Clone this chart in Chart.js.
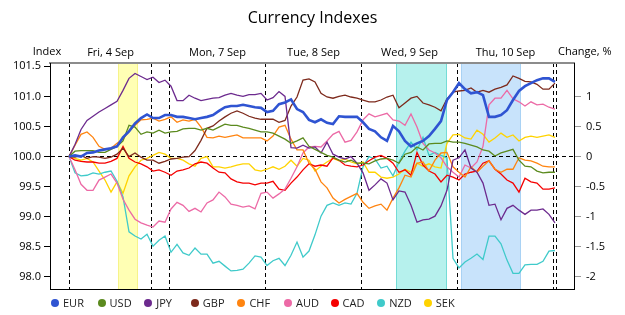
<!DOCTYPE html>
<html>
<head>
<meta charset="utf-8">
<script src="https://cdn.jsdelivr.net/npm/chart.js@4.4.1/dist/chart.umd.min.js"></script>
<style>
  html, body { margin: 0; padding: 0; background: #fff; }
  #wrap { position: relative; width: 625px; height: 315px; }
  #legend {
    position: absolute; left: 51px; top: 295px; display: flex;
    font: 11px "Open Sans", sans-serif; color: #222; line-height: 15px;
  }
  .item { width: 46.6px; display: flex; align-items: center; white-space: nowrap; }
  .dot { width: 8px; height: 8px; border-radius: 50%; margin-right: 4px; flex: none; }
</style>
</head>
<body>
<div id="wrap">
  <canvas id="chart" width="625" height="315"></canvas>
  <div id="legend"></div>
</div>
<script>
const FONT = '"Open Sans", sans-serif';

const CURRENCIES = ["EUR", "USD", "JPY", "GBP", "CHF", "AUD", "CAD", "NZD", "SEK"];

// index values, one point per step, Fri 4 Sep -> Thu 10 Sep
const EUR = [
  100.00, 100.02, 100.00, 100.06, 100.07, 100.10, 100.12, 100.14, 100.17, 100.32,
  100.42, 100.55, 100.64, 100.70, 100.64, 100.64, 100.69, 100.69, 100.66, 100.66,
  100.64, 100.62, 100.64, 100.66, 100.69, 100.76, 100.82, 100.84, 100.84, 100.86,
  100.84, 100.82, 100.81, 100.74, 100.76, 100.87, 100.90, 100.95, 100.79, 100.74,
  100.61, 100.57, 100.62, 100.56, 100.54, 100.67, 100.66, 100.66, 100.66, 100.57,
  100.46, 100.42, 100.32, 100.26, 100.51, 100.42, 100.26, 100.17, 100.22, 100.26,
  100.34, 100.46, 100.59, 100.94, 101.07, 101.22, 101.12, 101.05, 101.07, 101.02,
  100.66, 100.66, 100.69, 100.77, 100.94, 101.09, 101.17, 101.22, 101.27, 101.30,
  101.30, 101.24,
];
const USD = [
  100.00, 100.09, 100.10, 100.10, 100.10, 100.07, 100.07, 100.12, 100.17, 100.26,
  100.52, 100.49, 100.37, 100.41, 100.39, 100.44, 100.39, 100.41, 100.42, 100.46,
  100.47, 100.47, 100.44, 100.47, 100.44, 100.49, 100.54, 100.52, 100.52, 100.49,
  100.47, 100.44, 100.41, 100.41, 100.39, 100.34, 100.29, 100.22, 100.26, 100.31,
  100.17, 100.12, 100.07, 100.02, 99.99, 99.94, 99.91, 99.94, 99.89, 99.89,
  99.88, 99.93, 99.96, 99.97, 99.94, 99.89, 100.04, 100.07, 100.16, 100.11,
  100.21, 100.22, 100.22, 100.26, 100.24, 100.24, 100.22, 100.19, 100.16, 100.11,
  100.09, 100.01, 100.06, 100.09, 100.12, 99.94, 99.84, 99.83, 99.76, 99.73,
  99.74, 99.74,
];
const JPY = [
  100.00, 100.20, 100.45, 100.60, 100.67, 100.74, 100.80, 100.86, 100.92, 101.10,
  101.30, 101.38, 101.33, 101.28, 101.32, 101.23, 101.27, 101.17, 100.93, 100.93,
  101.02, 100.97, 100.93, 100.95, 100.97, 100.98, 101.02, 101.05, 101.02, 101.00,
  101.03, 101.03, 101.05, 100.94, 100.98, 101.08, 101.00, 100.15, 100.14, 100.19,
  100.14, 100.16, 100.06, 100.24, 100.04, 99.99, 99.96, 100.00, 99.89, 99.73,
  99.44, 99.53, 99.63, 99.56, 99.28, 99.43, 99.41, 99.19, 98.91, 98.95,
  98.96, 99.01, 99.18, 99.44, 99.94, 99.98, 100.11, 99.81, 99.74, 99.56,
  99.19, 99.21, 98.95, 99.14, 99.19, 99.11, 99.04, 99.11, 99.11, 99.13,
  99.04, 98.90,
];
const GBP = [
  100.00, 99.99, 100.02, 99.97, 100.00, 99.99, 99.97, 99.99, 100.04, 100.14,
  100.00, 100.06, 99.99, 99.94, 99.94, 99.89, 99.92, 99.96, 99.97, 99.99,
  100.00, 100.10, 100.27, 100.47, 100.51, 100.59, 100.66, 100.72, 100.76, 100.72,
  100.67, 100.64, 100.62, 100.62, 100.62, 100.57, 100.60, 100.84, 100.99, 101.27,
  101.29, 101.24, 101.05, 100.99, 100.97, 101.00, 101.02, 100.99, 100.97, 100.94,
  100.91, 100.91, 100.94, 100.99, 101.02, 100.81, 100.89, 100.97, 101.00, 100.89,
  100.86, 100.82, 100.76, 100.96, 101.07, 101.09, 101.10, 101.14, 101.07, 101.10,
  101.07, 101.12, 101.15, 101.19, 101.34, 101.30, 101.25, 101.24, 101.20, 101.12,
  101.12, 101.22,
];
const CHF = [
  100.00, 100.19, 100.37, 100.41, 100.32, 100.17, 100.12, 100.14, 100.22, 100.29,
  100.42, 100.52, 100.61, 100.62, 100.64, 100.59, 100.62, 100.66, 100.57, 100.61,
  100.59, 100.62, 100.49, 100.32, 100.31, 100.34, 100.32, 100.34, 100.36, 100.31,
  100.31, 100.31, 100.31, 100.26, 100.34, 100.49, 100.52, 100.29, 100.11, 100.11,
  99.89, 99.79, 99.58, 99.48, 99.31, 99.23, 99.29, 99.34, 99.39, 99.24,
  99.14, 99.18, 99.21, 99.11, 99.31, 99.48, 99.69, 99.66, 99.89, 99.91,
  99.76, 99.94, 100.06, 100.07, 99.83, 99.74, 99.66, 99.83, 99.74, 99.84,
  99.93, 99.79, 99.74, 99.79, 99.79, 99.98, 99.94, 99.93, 99.89, 99.84,
  99.83, 99.83,
];
const AUD = [
  100.00, 99.78, 99.54, 99.44, 99.44, 99.61, 99.66, 99.71, 99.56, 99.29,
  99.11, 98.96, 98.90, 98.86, 98.83, 98.93, 98.91, 99.13, 99.24, 99.19,
  99.09, 99.14, 99.08, 99.23, 99.28, 99.41, 99.33, 99.21, 99.19, 99.16,
  99.18, 99.13, 99.39, 99.41, 99.31, 99.38, 99.46, 99.64, 99.83, 100.06,
  100.16, 100.17, 100.16, 100.26, 100.37, 100.42, 100.24, 100.27, 100.41, 100.61,
  100.71, 100.66, 100.69, 100.72, 100.61, 100.59, 100.52, 100.71, 100.49, 100.22,
  100.11, 100.06, 99.98, 99.83, 99.74, 99.66, 99.86, 99.81, 99.91, 100.17,
  100.86, 100.97, 100.97, 101.10, 100.96, 100.91, 100.84, 100.91, 100.86, 100.87,
  100.82, 100.79,
];
const CAD = [
  100.00, 99.94, 99.92, 99.91, 99.91, 99.89, 99.89, 99.92, 99.97, 100.17,
  99.97, 99.91, 99.88, 99.83, 99.76, 99.78, 99.74, 99.69, 99.76, 99.78,
  99.81, 99.88, 99.91, 99.89, 99.81, 99.74, 99.73, 99.63, 99.58, 99.56,
  99.56, 99.53, 99.56, 99.56, 99.59, 99.46, 99.44, 99.56, 99.66, 99.78,
  99.88, 99.84, 99.86, 99.84, 99.98, 99.94, 99.86, 99.84, 99.83, 99.86,
  99.93, 99.99, 100.02, 99.97, 99.89, 99.74, 99.78, 99.69, 100.07, 99.86,
  99.76, 99.71, 99.58, 99.69, 99.66, 99.61, 99.71, 99.74, 99.76, 99.89,
  99.93, 99.79, 99.71, 99.61, 99.56, 99.41, 99.64, 99.58, 99.56, 99.46,
  99.46, 99.48,
];
const NZD = [
  100.00, 99.73, 99.68, 99.69, 99.73, 99.71, 99.74, 99.76, 99.59, 99.33,
  98.75, 98.68, 98.63, 98.71, 98.51, 98.61, 98.68, 98.41, 98.54, 98.40,
  98.36, 98.48, 98.38, 98.38, 98.23, 98.26, 98.18, 98.10, 98.11, 98.13,
  98.23, 98.35, 98.33, 98.19, 98.27, 98.31, 98.19, 98.36, 98.58, 98.33,
  98.43, 98.70, 99.01, 99.19, 99.23, 99.19, 99.23, 99.21, 99.39, 99.83,
  100.00, 99.96, 99.81, 99.84, 99.68, 99.91, 100.09, 100.24, 100.11, 100.32,
  100.02, 100.07, 100.02, 99.98, 98.31, 98.15, 98.25, 98.31, 98.38, 98.29,
  98.68, 98.68, 98.55, 98.28, 98.06, 98.06, 98.20, 98.21, 98.21, 98.26,
  98.43, 98.44,
];
const SEK = [
  100.00, 99.97, 99.94, 99.97, 99.91, 99.76, 99.61, 99.41, 99.58, 99.39,
  99.68, 99.83, 99.94, 99.97, 100.02, 100.07, 100.04, 99.97, 99.97, 99.94,
  99.88, 99.84, 99.97, 100.00, 99.83, 99.83, 99.81, 99.83, 99.86, 99.88,
  99.88, 99.78, 99.76, 99.79, 99.83, 99.79, 99.84, 99.94, 99.84, 99.97,
  99.94, 99.76, 99.84, 99.91, 99.97, 99.93, 99.96, 99.91, 99.88, 99.91,
  99.74, 99.74, 99.66, 99.64, 99.66, 99.71, 99.79, 99.74, 99.89, 99.84,
  99.88, 99.83, 99.81, 100.22, 100.36, 100.37, 100.31, 100.29, 100.44, 100.37,
  100.24, 100.31, 100.39, 100.32, 100.36, 100.26, 100.32, 100.34, 100.32, 100.34,
  100.36, 100.32,
];

// x is measured in steps from the first point
const X_MIN = -3.17;
const X_MAX = 84.17;
const DAY_BREAKS = [0, 13.83, 16.67, 32.83, 48.67, 64.83, 80.67, 81.17];
const DAY_CENTERS = [6.92, 24.75, 40.75, 56.75, 72.75];
const DAY_LABELS = ["Fri, 4 Sep", "Mon, 7 Sep", "Tue, 8 Sep", "Wed, 9 Sep", "Thu, 10 Sep"];
const BAND_RANGES = [[8.17, 11.5], [54.5, 63.0], [65.33, 75.33]];

const INDEX_MIN = 97.8;
const INDEX_MAX = 101.555;
const INDEX_TICKS = [98, 98.5, 99, 99.5, 100, 100.5, 101, 101.5];
const CHANGE_TICKS = [-2, -1.5, -1, -0.5, 0, 0.5, 1];

const LINE_COLORS = ["#2f54d2", "#5b8a1e", "#6c2a8e", "#7d2a1c", "#ff8410", "#ec6aa6", "#f50000", "#3fcaca", "#ffd300"];
const BAND_FILLS = ["#ffffb4", "#b6f1ed", "#c8e3fb"];
const BAND_EDGES = ["#f6f38a", "#74dcd6", "#a9d2f4"];

const steps = EUR.map((_, i) => i);

const datasets = CURRENCIES.map((name, k) => ({
  label: name,
  data: [EUR, USD, JPY, GBP, CHF, AUD, CAD, NZD, SEK][k],
  borderColor: LINE_COLORS[k],
  backgroundColor: LINE_COLORS[k],
  borderWidth: name === "EUR" ? 2.6 : 1.3,
  pointRadius: 0,
  tension: 0,
  fill: false,
  yAxisID: "y",
  xAxisID: "x",
}));

const backdrop = {
  id: "backdrop",
  beforeDraw(chart) {
    const { ctx, chartArea: a } = chart;
    const x = chart.scales.x;
    ctx.save();
    ctx.fillStyle = "#fff";
    ctx.fillRect(0, 0, chart.width, chart.height);
    BAND_RANGES.forEach(([from, to], k) => {
      const x0 = x.getPixelForValue(from);
      const x1 = x.getPixelForValue(to);
      ctx.fillStyle = BAND_FILLS[k];
      ctx.fillRect(x0, a.top, x1 - x0, a.bottom - a.top);
      ctx.strokeStyle = BAND_EDGES[k];
      ctx.lineWidth = 1;
      ctx.beginPath();
      ctx.moveTo(Math.round(x0) + 0.5, a.top);
      ctx.lineTo(Math.round(x0) + 0.5, a.bottom);
      ctx.moveTo(Math.round(x1) - 0.5, a.top);
      ctx.lineTo(Math.round(x1) - 0.5, a.bottom);
      ctx.stroke();
    });
    ctx.restore();
  },
  afterDraw(chart) {
    const { ctx, chartArea: a } = chart;
    ctx.save();
    ctx.fillStyle = "#000";
    ctx.font = `11px ${FONT}`;
    ctx.textBaseline = "middle";
    ctx.textAlign = "center";
    ctx.fillText("Index", a.left - 3, 52);
    ctx.textAlign = "left";
    ctx.fillText("Change, %", a.right - 16, 52);
    ctx.restore();
  },
};

const chart = new Chart(document.getElementById("chart"), {
  type: "line",
  data: { labels: steps, datasets },
  options: {
    responsive: false,
    animation: false,
    devicePixelRatio: 1,
    layout: { padding: { left: 0, right: 0, top: 0, bottom: 26 } },
    plugins: {
      legend: { display: false },
      tooltip: { enabled: false },
      title: {
        display: true,
        text: "Currency Indexes",
        color: "#000",
        font: { family: FONT, size: 16, weight: "normal" },
        padding: { top: 9, bottom: 11.8 },
      },
    },
    scales: {
      x: {
        type: "linear",
        position: "bottom",
        min: X_MIN,
        max: X_MAX,
        afterBuildTicks: (s) => { s.ticks = DAY_BREAKS.map((v) => ({ value: v })); },
        afterFit: (s) => { s.height = 0; },
        ticks: { display: false },
        grid: { color: "#000", lineWidth: 1, drawTicks: false },
        border: { color: "#000", width: 1, dash: [4, 3] },
      },
      x2: {
        type: "linear",
        position: "top",
        min: X_MIN,
        max: X_MAX,
        afterBuildTicks: (s) => { s.ticks = DAY_CENTERS.map((v) => ({ value: v })); },
        afterFit: (s) => { s.height = 23; },
        ticks: {
          callback: (v, i) => DAY_LABELS[i],
          autoSkip: false,
          maxRotation: 0,
          padding: 4,
          color: "#000",
          font: { family: FONT, size: 11 },
        },
        grid: { display: false, drawTicks: false },
        border: { color: "#8c8c8c", width: 2 },
      },
      y: {
        position: "left",
        min: INDEX_MIN,
        max: INDEX_MAX,
        afterBuildTicks: (s) => { s.ticks = INDEX_TICKS.map((v) => ({ value: v })); },
        afterFit: (s) => { s.width = 50; },
        ticks: {
          callback: (v) => Number(v).toFixed(1),
          color: "#000",
          padding: 3,
          font: { family: FONT, size: 11 },
        },
        grid: {
          color: (c) => (c.tick && c.tick.value === 100 ? "#000" : "rgba(0,0,0,0)"),
          tickColor: "#000",
          tickLength: 6,
        },
        border: { color: "#000", width: 1, dash: [4, 3] },
      },
      y2: {
        position: "right",
        min: INDEX_MIN - 100,
        max: INDEX_MAX - 100,
        afterBuildTicks: (s) => { s.ticks = CHANGE_TICKS.map((v) => ({ value: v })); },
        afterFit: (s) => { s.width = 51; },
        ticks: {
          callback: (v) => String(v),
          color: "#000",
          padding: 5,
          font: { family: FONT, size: 11 },
        },
        grid: { drawOnChartArea: false, tickColor: "#9a9a9a", tickLength: 7 },
        border: { color: "#000", width: 1 },
      },
    },
  },
  plugins: [backdrop],
});

// legend as html items under the plot
const legendEl = document.getElementById("legend");
legendEl.innerHTML = chart.data.datasets
  .map((ds) => `<span class="item"><span class="dot" style="background:${ds.borderColor}"></span>${ds.label}</span>`)
  .join("");
</script>
</body>
</html>
